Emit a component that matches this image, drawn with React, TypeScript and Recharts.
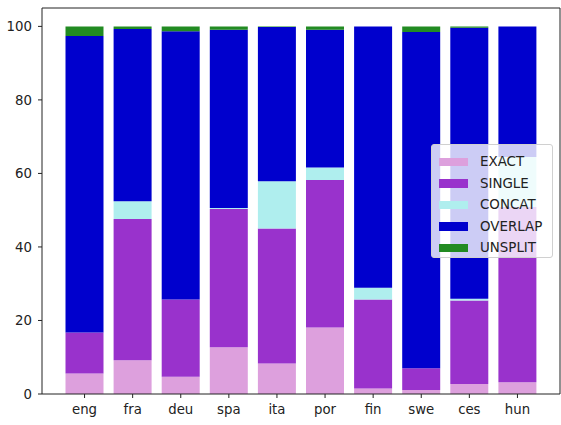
import React from "react";
import { BarChart, Bar, XAxis, YAxis, Legend } from "recharts";

const languages = ["eng", "fra", "deu", "spa", "ita", "por", "fin", "swe", "ces", "hun"];

const exact = [5.6, 9.2, 4.7, 12.7, 8.3, 18.1, 1.5, 1.1, 2.7, 3.2];
const single = [11.1, 38.4, 21.0, 37.6, 36.7, 40.1, 24.2, 5.9, 22.7, 47.7];
const concat = [0, 4.8, 0, 0.3, 12.9, 3.4, 3.2, 0, 0.5, 13.6];
const overlap = [80.7, 46.9, 73.0, 48.5, 41.9, 37.5, 71.1, 91.5, 73.7, 35.5];
const unsplit = [2.6, 0.7, 1.3, 0.9, 0.2, 0.9, 0, 1.5, 0.4, 0];

const yTicks = [0, 20, 40, 60, 80, 100];

const series = [
  { key: "EXACT", values: exact, color: "#dda0dd" },
  { key: "SINGLE", values: single, color: "#9932cc" },
  { key: "CONCAT", values: concat, color: "#afeeee" },
  { key: "OVERLAP", values: overlap, color: "#0000cd" },
  { key: "UNSPLIT", values: unsplit, color: "#228b22" },
];

const data = languages.map((lang, i) => {
  const row: Record<string, string | number> = { lang };
  series.forEach((s) => (row[s.key] = s.values[i]));
  return row;
});

const font = "'DejaVu Sans', sans-serif";
const ink = "#222";

function LegendBox() {
  return (
    <div
      style={{
        boxSizing: "border-box",
        width: 122,
        height: 114,
        background: "rgba(255,255,255,0.8)",
        border: "1px solid #d0d0d0",
        borderRadius: 3,
        padding: "6px 0 0 7px",
        fontFamily: font,
        fontSize: 13.4,
        color: ink,
      }}
    >
      {series.map((s) => (
        <div key={s.key} style={{ display: "flex", alignItems: "center", height: 21.5 }}>
          <span style={{ display: "inline-block", width: 29, height: 8.5, background: s.color, marginRight: 12 }} />
          <span>{s.key}</span>
        </div>
      ))}
    </div>
  );
}

export default function App() {
  return (
    <div style={{ position: "absolute", left: 0, top: 0, width: 561, height: 425, background: "#fff" }}>
      <BarChart width={561} height={425} data={data} margin={{ top: 7, right: 0, bottom: 0, left: 0 }}>
        <XAxis
          dataKey="lang"
          height={31}
          padding={{ left: 18.5, right: 18.5 }}
          stroke={ink}
          tickSize={4}
          tickMargin={7}
          tick={{ fill: ink, fontSize: 13.3, fontFamily: font }}
        />
        <XAxis
          xAxisId="top"
          orientation="top"
          type="number"
          domain={[0, 1]}
          allowDataOverflow
          height={1}
          tick={false}
          tickLine={false}
          stroke={ink}
        />
        <YAxis
          width={42}
          domain={[0, 105]}
          ticks={yTicks}
          stroke={ink}
          tickSize={4}
          tickMargin={6}
          tick={{ fill: ink, fontSize: 13.3, fontFamily: font }}
        />
        <YAxis
          yAxisId="right"
          orientation="right"
          type="number"
          domain={[0, 105]}
          allowDataOverflow
          width={1}
          tick={false}
          tickLine={false}
          stroke={ink}
        />
        {series.map((s) => (
          <Bar key={s.key} dataKey={s.key} stackId="a" fill={s.color} barSize={38} isAnimationActive={false} />
        ))}
        <Legend
          layout="horizontal"
          verticalAlign="middle"
          align="center"
          content={() => <LegendBox />}
          wrapperStyle={{ left: 431, top: 144, width: 122, height: 114 }}
        />
      </BarChart>
    </div>
  );
}
